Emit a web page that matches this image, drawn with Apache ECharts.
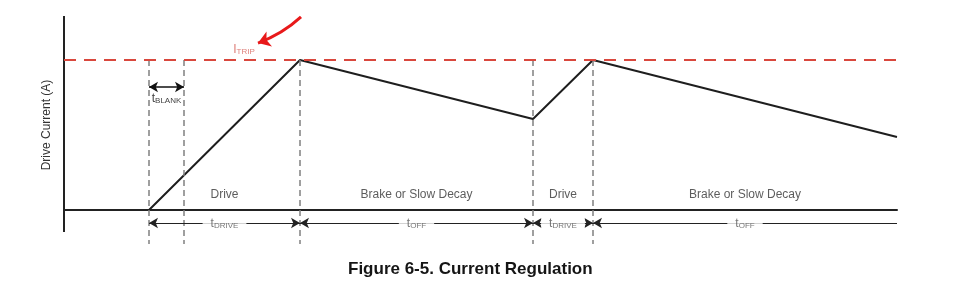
<!DOCTYPE html>
<html>
<head>
<meta charset="utf-8">
<script src="https://cdn.jsdelivr.net/npm/echarts@6/dist/echarts.min.js"></script>
<style>
html,body{margin:0;padding:0;background:#fff;}
#chart{width:960px;height:287px;}
</style>
</head>
<body>
<div id="chart"></div>
<script>
// ---- data (time in arbitrary units, current relative to I_TRIP) ----
const currentTimes  = [8.5, 23.6, 46.9, 52.9, 83.3];
const currentValues = [0, 1, 0.607, 1, 0.487];
const guideTimes    = [8.5, 12.0, 23.6, 46.9, 52.9];
const spanStarts    = [8.5, 23.6, 46.9, 52.9];
const spanEnds      = [23.6, 46.9, 52.9, 83.3];
const spanNames     = ['DRIVE', 'OFF', 'DRIVE', 'OFF'];
const phaseNames    = ['Drive', 'Brake or Slow Decay', 'Drive', 'Brake or Slow Decay'];
const blankStart    = 8.5;
const blankEnd      = 12.0;
const tripLevel     = 1;
const xMax          = 83.3;
const yMin          = -0.227;
const yMax          = 1.2933;
const axisBottom    = -0.1467;
const spanLevel     = -0.087;
const blankLevel    = 0.82;
const phaseLabelLevel = 0.1;
const tripLabelPos  = [18.0, 1.073];
const pointerStart  = [23.7, 1.287];
const pointerEnd    = [19.4, 1.113];
const yAxisTitle    = 'Drive Current (A)';
const figTitle      = 'Figure 6-5. Current Regulation';

const FONT = "'Liberation Sans', Arial, sans-serif";
const chart = echarts.init(document.getElementById('chart'), null, {renderer: 'canvas'});

const subRich = (color, big) => ({
  t: {fontSize: big || 12, color: color, fontFamily: FONT, lineHeight: 14, verticalAlign: 'bottom'},
  s: {fontSize: 8, color: color, fontFamily: FONT, lineHeight: 14, verticalAlign: 'bottom'}
});

const spanLines = spanStarts.map((s, i) => ([
  {coord: [s, spanLevel], symbol: 'arrow'},
  {coord: [spanEnds[i], spanLevel], symbol: i === spanStarts.length - 1 ? 'none' : 'arrow'}
]));

const option = {
  animation: false,
  textStyle: {fontFamily: FONT},
  title: {
    text: figTitle, left: 343, top: 256,
    textStyle: {fontFamily: FONT, fontSize: 17, fontWeight: 'bold', color: '#151515'}
  },
  grid: {left: 64, right: 63, top: 16, bottom: 43},
  xAxis: {
    type: 'value', min: 0, max: xMax,
    axisLine: {show: true, onZero: true, lineStyle: {color: '#222', width: 2}},
    axisTick: {show: false}, axisLabel: {show: false}, splitLine: {show: false}
  },
  yAxis: {
    type: 'value', min: yMin, max: yMax,
    name: yAxisTitle, nameLocation: 'middle', nameGap: 11, nameRotate: 90,
    nameTextStyle: {fontFamily: FONT, fontSize: 12, color: '#333', padding: [0, 0, 0, 10]},
    axisLine: {show: false},
    axisTick: {show: false}, axisLabel: {show: false}, splitLine: {show: false}
  },
  series: [
    {
      name: 'yaxisline', type: 'line', data: [], clip: false, silent: true,
      markLine: {
        silent: true, symbol: 'none', label: {show: false},
        lineStyle: {color: '#222', width: 2, type: 'solid'},
        data: [[{coord: [0, axisBottom]}, {coord: [0, yMax]}]]
      }
    },
    {
      name: 'guides', type: 'line', data: [], clip: false, silent: true,
      markLine: {
        silent: true, symbol: 'none', label: {show: false},
        lineStyle: {color: '#808080', width: 1.5, type: [6, 4]},
        data: guideTimes.map(t => [{coord: [t, tripLevel]}, {coord: [t, yMin]}])
      }
    },
    {
      name: 'trip', type: 'line', data: [], clip: false, silent: true,
      markLine: {
        silent: true, symbol: 'none', label: {show: false},
        lineStyle: {color: '#d9473d', width: 2, type: [12, 8]},
        data: [[{coord: [0, tripLevel]}, {coord: [xMax, tripLevel]}]]
      }
    },
    {
      name: 'current', type: 'line', clip: false, silent: true,
      data: currentTimes.map((t, i) => [t, currentValues[i]]),
      showSymbol: false, symbol: 'none',
      lineStyle: {color: '#1e1e1e', width: 2}
    },
    {
      name: 'spans', type: 'line', data: [], clip: false, silent: true,
      markLine: {
        silent: true, symbolSize: [8, 9],
        lineStyle: {color: '#222', width: 1, type: 'solid'},
        label: {show: false},
        data: spanLines
      }
    },
    {
      name: 'spanLabels', type: 'scatter', symbolSize: 0, silent: true, clip: false, z: 5,
      data: spanNames.map((n, i) => ({name: n, value: [(spanStarts[i] + spanEnds[i]) / 2, spanLevel]})),
      label: {
        show: true, position: 'inside',
        formatter: (p) => '{t|t}{s|' + p.name + '}',
        rich: subRich('#555'), backgroundColor: '#fff', padding: [0, 8, 0, 8]
      }
    },
    {
      name: 'blank', type: 'line', data: [], clip: false, silent: true,
      markLine: {
        silent: true, symbol: ['arrow', 'arrow'], symbolSize: [8, 9],
        lineStyle: {color: '#111', width: 1.5, type: 'solid'},
        label: {
          show: true, position: 'insideMiddleBottom', distance: 4,
          formatter: '{t|t}{s|BLANK}', rich: subRich('#444')
        },
        data: [[{coord: [blankStart, blankLevel]}, {coord: [blankEnd, blankLevel]}]]
      }
    },
    {
      name: 'phases', type: 'scatter', symbolSize: 0, silent: true, clip: false,
      data: phaseNames.map((n, i) => ({name: n, value: [(spanStarts[i] + spanEnds[i]) / 2, phaseLabelLevel]})),
      label: {show: true, position: 'inside', formatter: '{b}', fontFamily: FONT, fontSize: 12, color: '#333'}
    },
    {
      name: 'tripLabel', type: 'scatter', symbolSize: 0, silent: true, clip: false,
      data: [{name: 'ITRIP', value: tripLabelPos}],
      label: {show: true, position: 'inside', formatter: '{t|I}{s|TRIP}', rich: subRich('#d6605a')}
    },
    {
      name: 'pointer', type: 'lines', coordinateSystem: 'cartesian2d', silent: true, clip: false,
      symbol: ['none', 'arrow'], symbolSize: 12,
      lineStyle: {color: '#e8191a', width: 3, opacity: 1, curveness: 0.1},
      data: [{coords: [pointerStart, pointerEnd]}]
    }
  ]
};
chart.setOption(option);
</script>
</body>
</html>
